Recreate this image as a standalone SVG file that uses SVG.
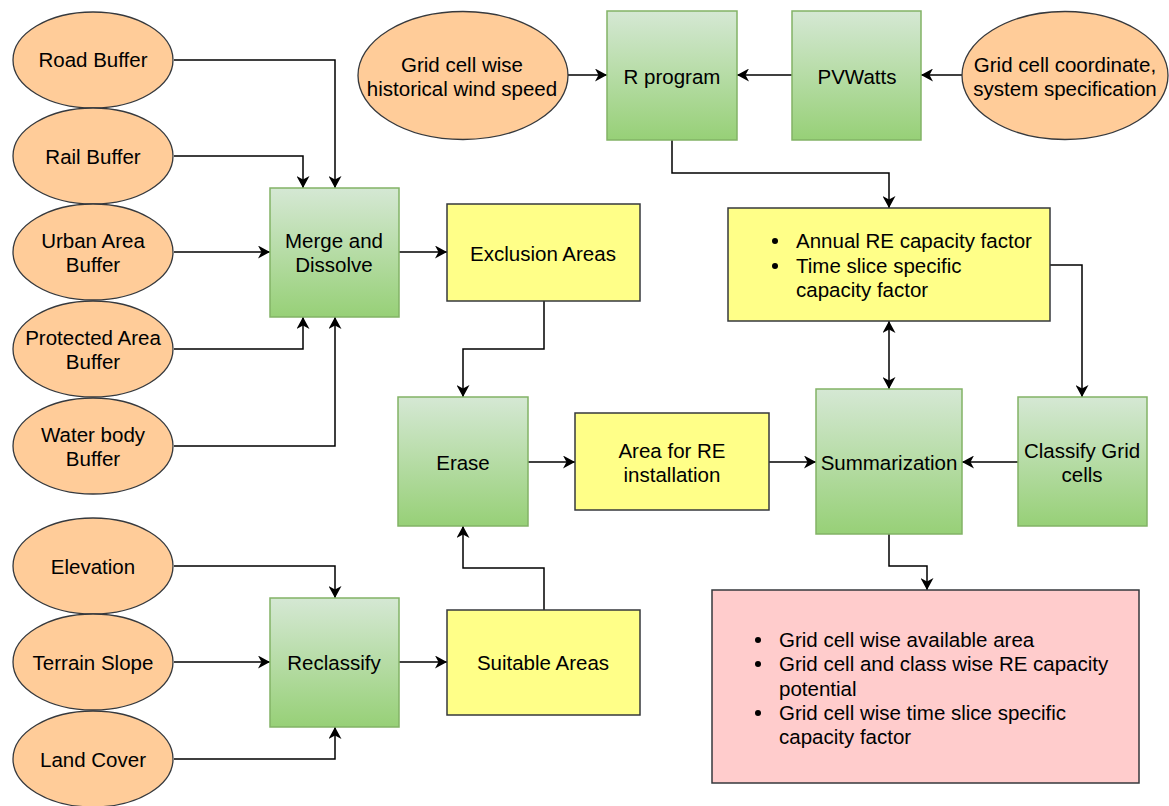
<svg xmlns="http://www.w3.org/2000/svg" width="1169" height="806" viewBox="0 0 1169 806">
  <style>
    .src { fill: #ffcc99; stroke: #36393d; stroke-width: 1.3; }
    .proc { fill: url(#greenGrad); stroke: #82b366; stroke-width: 1.5; }
    .data { fill: #ffff88; stroke: #36393d; stroke-width: 1.5; }
    .result { fill: #ffcccc; stroke: #36393d; stroke-width: 1.5; }
    text { font-family: "Liberation Sans", Arial, Helvetica, sans-serif; font-size: 20.5px; fill: #000; }
    .c { text-anchor: middle; }
    .edge { fill: none; stroke: #000; stroke-width: 1.5; marker-end: url(#arrow); }
  </style>
  <defs>
    <linearGradient id="greenGrad" x1="0" y1="0" x2="0" y2="1">
      <stop offset="0" stop-color="#d5e8d4"/>
      <stop offset="1" stop-color="#97d077"/>
    </linearGradient>
    <marker id="arrow" markerUnits="userSpaceOnUse" markerWidth="13" markerHeight="13" refX="12" refY="6.5" orient="auto-start-reverse">
      <path d="M0,0 L12,6.5 L0,13 L3.5,6.5 Z" fill="#000"/>
    </marker>
  </defs>

  <!-- connectors -->
  <g id="connectors">
    <path class="edge" d="M174,60 H335 V188"/>
    <path class="edge" d="M174,156 H303 V188"/>
    <path class="edge" d="M174,252 H270"/>
    <path class="edge" d="M174,349 H303 V317"/>
    <path class="edge" d="M174,446 H335 V317"/>
    <path class="edge" d="M399,252 H447"/>
    <path class="edge" d="M544,301 V349 H463 V397"/>
    <path class="edge" d="M528,462 H575"/>
    <path class="edge" d="M769,462 H816"/>
    <path class="edge" d="M1018,462 H962"/>
    <path class="edge" d="M889,534 V566 H927 V590"/>
    <path class="edge" d="M568,75 H607"/>
    <path class="edge" d="M792,75 H737"/>
    <path class="edge" d="M962,75 H921"/>
    <path class="edge" d="M672,140 V173 H889 V208"/>
    <path class="edge" d="M1050,265 H1082 V397"/>
    <path class="edge" d="M889,321 V389" marker-start="url(#arrow)"/>
    <path class="edge" d="M174,566 H335 V598"/>
    <path class="edge" d="M174,662 H270"/>
    <path class="edge" d="M174,759 H335 V727"/>
    <path class="edge" d="M399,662 H447"/>
    <path class="edge" d="M544,610 V568 H463 V526"/>
  </g>

  <!-- input layers -->
  <g id="road-buffer">
    <ellipse class="src" cx="93" cy="60" rx="80" ry="48"/>
    <text class="c" x="93" y="67">Road Buffer</text>
  </g>
  <g id="rail-buffer">
    <ellipse class="src" cx="93" cy="156" rx="80" ry="48"/>
    <text class="c" x="93" y="164">Rail Buffer</text>
  </g>
  <g id="urban-buffer">
    <ellipse class="src" cx="93" cy="252" rx="80" ry="48"/>
    <text class="c" x="93" y="248">Urban Area</text>
    <text class="c" x="93" y="272">Buffer</text>
  </g>
  <g id="protected-buffer">
    <ellipse class="src" cx="93" cy="349" rx="80" ry="48"/>
    <text class="c" x="93" y="345">Protected Area</text>
    <text class="c" x="93" y="369">Buffer</text>
  </g>
  <g id="water-buffer">
    <ellipse class="src" cx="93" cy="446" rx="80" ry="48"/>
    <text class="c" x="93" y="442">Water body</text>
    <text class="c" x="93" y="466">Buffer</text>
  </g>
  <g id="elevation">
    <ellipse class="src" cx="93" cy="566" rx="80" ry="48"/>
    <text class="c" x="93" y="574">Elevation</text>
  </g>
  <g id="terrain-slope">
    <ellipse class="src" cx="93" cy="662" rx="80" ry="48"/>
    <text class="c" x="93" y="670">Terrain Slope</text>
  </g>
  <g id="land-cover">
    <ellipse class="src" cx="93" cy="759" rx="80" ry="48"/>
    <text class="c" x="93" y="767">Land Cover</text>
  </g>
  <g id="wind-speed">
    <ellipse class="src" cx="463" cy="75.5" rx="105" ry="64"/>
    <text class="c" x="462" y="72">Grid cell wise</text>
    <text class="c" x="462" y="96">historical wind speed</text>
  </g>
  <g id="grid-coordinate">
    <ellipse class="src" cx="1065" cy="75.5" rx="103" ry="64"/>
    <text class="c" x="1065" y="72">Grid cell coordinate,</text>
    <text class="c" x="1065" y="96">system specification</text>
  </g>

  <!-- processing steps -->
  <g id="merge-dissolve">
    <rect class="proc" x="270" y="188" width="129" height="129"/>
    <text class="c" x="334" y="248">Merge and</text>
    <text class="c" x="334" y="272">Dissolve</text>
  </g>
  <g id="erase">
    <rect class="proc" x="398" y="397" width="130" height="129"/>
    <text class="c" x="463" y="470">Erase</text>
  </g>
  <g id="reclassify">
    <rect class="proc" x="270" y="598" width="129" height="129"/>
    <text class="c" x="334" y="670">Reclassify</text>
  </g>
  <g id="r-program">
    <rect class="proc" x="607" y="11" width="130" height="129"/>
    <text class="c" x="672" y="84">R program</text>
  </g>
  <g id="pvwatts">
    <rect class="proc" x="792" y="11" width="129" height="129"/>
    <text class="c" x="857" y="84">PVWatts</text>
  </g>
  <g id="summarization">
    <rect class="proc" x="816" y="389" width="146" height="145"/>
    <text class="c" x="889" y="470">Summarization</text>
  </g>
  <g id="classify-grid">
    <rect class="proc" x="1018" y="397" width="129" height="129"/>
    <text class="c" x="1082" y="458">Classify Grid</text>
    <text class="c" x="1082" y="482">cells</text>
  </g>

  <!-- intermediate data -->
  <g id="exclusion-areas">
    <rect class="data" x="447" y="204" width="193" height="97"/>
    <text class="c" x="543" y="261">Exclusion Areas</text>
  </g>
  <g id="suitable-areas">
    <rect class="data" x="447" y="610" width="193" height="105"/>
    <text class="c" x="543" y="670">Suitable Areas</text>
  </g>
  <g id="re-area">
    <rect class="data" x="575" y="413" width="194" height="97"/>
    <text class="c" x="672" y="458">Area for RE</text>
    <text class="c" x="672" y="482">installation</text>
  </g>
  <g id="capacity-factor">
    <rect class="data" x="728" y="208" width="322" height="113"/>
    <circle cx="775" cy="241" r="3"/>
    <circle cx="775" cy="266" r="3"/>
    <text x="796" y="248">Annual RE capacity factor</text>
    <text x="796" y="273">Time slice specific</text>
    <text x="796" y="297">capacity factor</text>
  </g>

  <!-- final output -->
  <g id="output">
    <rect class="result" x="712" y="590" width="427" height="193"/>
    <circle cx="758" cy="640" r="3"/>
    <circle cx="758" cy="664" r="3"/>
    <circle cx="758" cy="713" r="3"/>
    <text x="779" y="647">Grid cell wise available area</text>
    <text x="779" y="671">Grid cell and class wise RE capacity</text>
    <text x="779" y="696">potential</text>
    <text x="779" y="720">Grid cell wise time slice specific</text>
    <text x="779" y="744">capacity factor</text>
  </g>
</svg>
